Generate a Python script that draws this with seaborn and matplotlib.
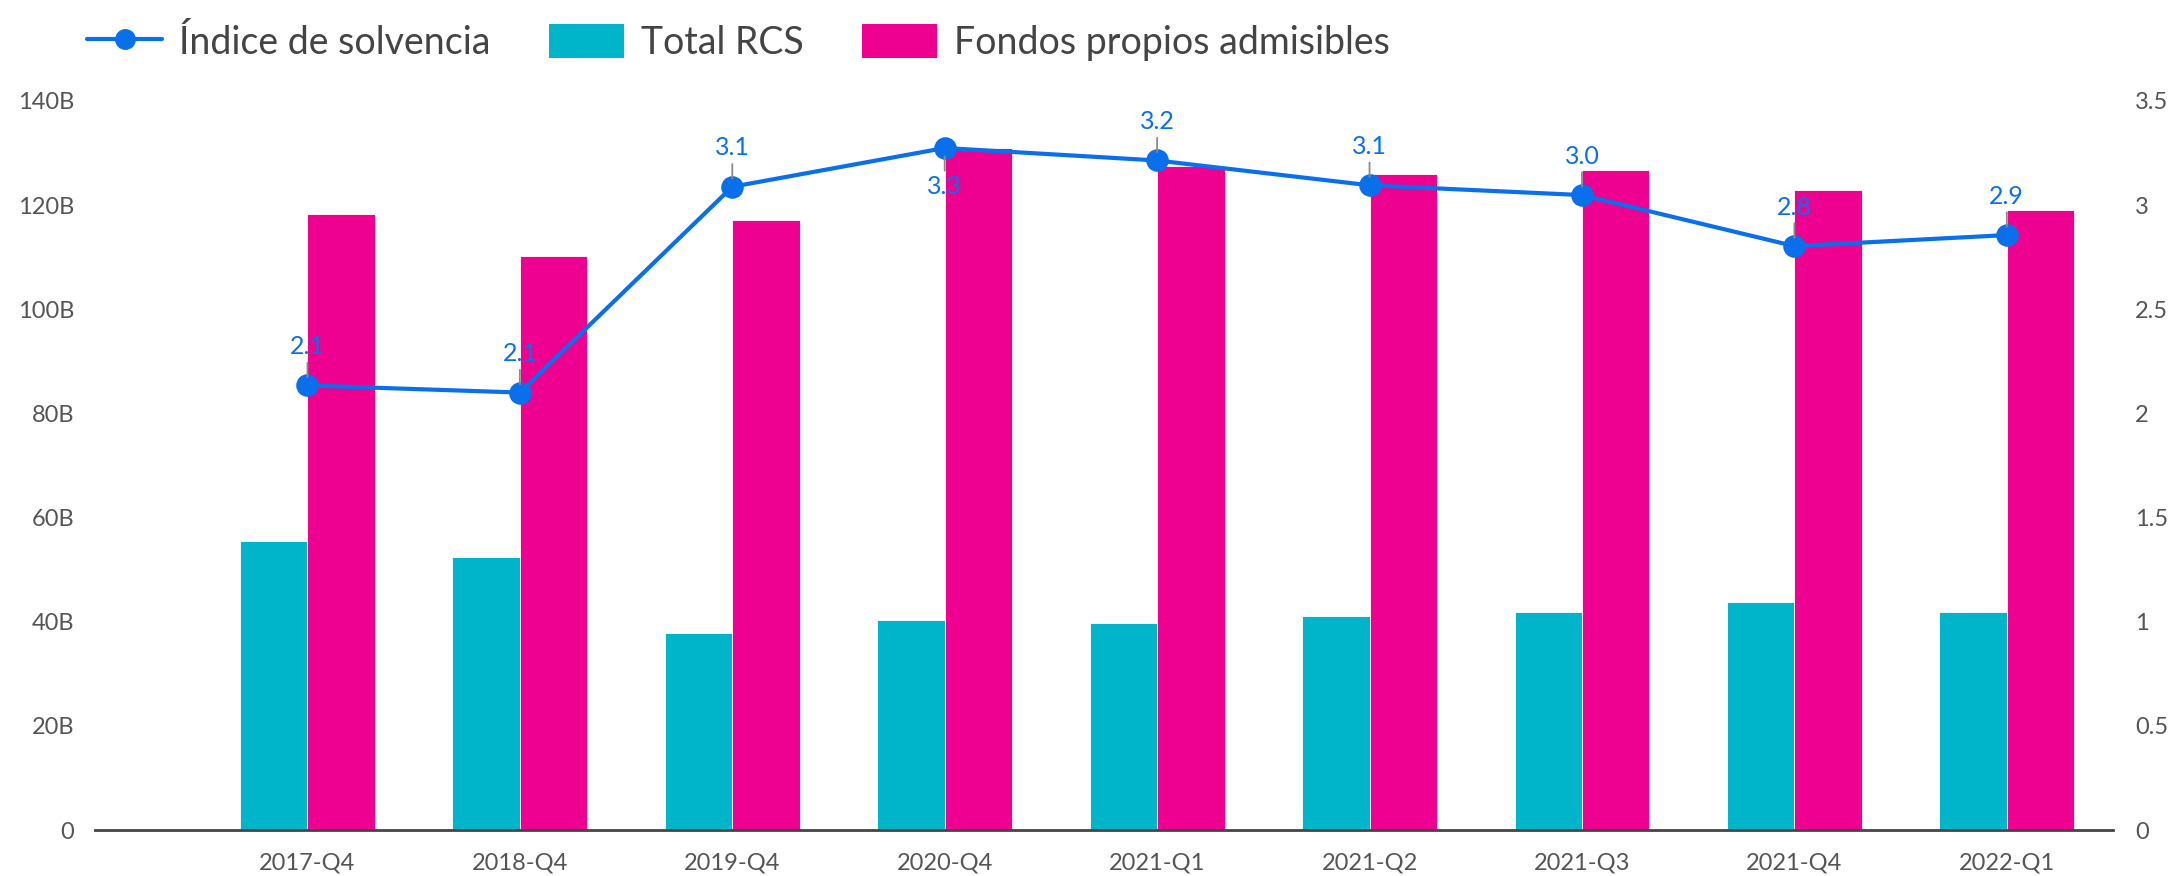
import numpy as np
import pandas as pd
import matplotlib
matplotlib.use("Agg")
import matplotlib.pyplot as plt
from matplotlib.lines import Line2D
from matplotlib.patches import Patch
import seaborn as sns

quarters = ["2017-Q4", "2018-Q4", "2019-Q4", "2020-Q4", "2021-Q1", "2021-Q2", "2021-Q3", "2021-Q4", "2022-Q1"]
total_rcs = [55.4, 52.5, 37.9, 40.3, 39.8, 41.1, 41.9, 43.8, 41.9]
fondos_propios = [118.3, 110.3, 117.2, 131.0, 127.5, 126.0, 126.8, 122.8, 119.1]
solvencia = [2.134, 2.10, 3.088, 3.274, 3.214, 3.095, 3.048, 2.803, 2.856]
left_ticks = [0, 20, 40, 60, 80, 100, 120, 140]
left_ticklabels = ["0", "20B", "40B", "60B", "80B", "100B", "120B", "140B"]
right_ticks = [0, 0.5, 1, 1.5, 2, 2.5, 3, 3.5]
right_ticklabels = ["0", "0.5", "1", "1.5", "2", "2.5", "3", "3.5"]
label_below = [False, False, False, True, False, False, False, False, False]

series_names = ["Índice de solvencia", "Total RCS", "Fondos propios admisibles"]
c_line = "#0a6fea"
c_cyan = "#00b5c9"
c_mag = "#ee0090"
c_tick = "#555555"

sns.set_theme(style="white")
plt.rcParams["font.family"] = ["Lato", "DejaVu Sans"]

df = pd.DataFrame({
    "quarter": quarters * 2,
    "value": total_rcs + fondos_propios,
    "serie": [series_names[1]] * len(quarters) + [series_names[2]] * len(quarters),
})

fig = plt.figure(figsize=(21.75, 8.76), dpi=100)
ax = fig.add_axes([0.0437, 0.0525, 0.9278, 0.8323])

sns.barplot(data=df, x="quarter", y="value", hue="serie", order=quarters,
            hue_order=series_names[1:], palette=[c_cyan, c_mag], width=0.635,
            dodge=True, saturation=1, edgecolor="white", linewidth=0.6,
            legend=False, ax=ax)

ax2 = ax.twinx()
sns.pointplot(x=quarters, y=solvencia, order=quarters, color=c_line, markers="o",
              linestyles="-", markersize=14, linewidth=3, ax=ax2, errorbar=None)

for a in (ax, ax2):
    a.set_xlim(-1.0, 8.5)
    for s in a.spines.values():
        s.set_visible(False)
    a.set_xlabel("")
    a.set_ylabel("")
    a.grid(False)

ax.spines["bottom"].set_visible(True)
ax.spines["bottom"].set_color("#444444")
ax.spines["bottom"].set_linewidth(2)

ax.set_ylim(0, 140)
ax.set_yticks(left_ticks)
ax.set_yticklabels(left_ticklabels)
ax2.set_ylim(0, 3.5)
ax2.set_yticks(right_ticks)
ax2.set_yticklabels(right_ticklabels)
ax.set_xticks(range(len(quarters)))
ax.set_xticklabels(quarters)

ax.tick_params(axis="x", length=0, pad=16, labelsize=17, labelcolor=c_tick)
ax.tick_params(axis="y", length=0, pad=15, labelsize=17, labelcolor=c_tick)
ax2.tick_params(axis="y", length=0, pad=16, labelsize=17, labelcolor=c_tick)
ax2.tick_params(axis="x", length=0, labelbottom=False, labeltop=False)

for i, (v, below) in enumerate(zip(solvencia, label_below)):
    off = -28 if below else 28
    ax2.annotate(f"{v:.1f}", xy=(i, v), xytext=(0, off), textcoords="offset points",
                 ha="center", va="center", fontsize=18, color=c_line,
                 arrowprops=dict(arrowstyle="-", color="#8a8a8a", lw=1.3,
                                 shrinkA=1, shrinkB=6))

handles = [
    Line2D([0], [0], color=c_line, lw=3, marker="o", markersize=14),
    Patch(facecolor=c_cyan, edgecolor="none"),
    Patch(facecolor=c_mag, edgecolor="none"),
]
fig.legend(handles, series_names, loc="upper left", bbox_to_anchor=(0.029, 1.0),
           borderaxespad=0.25, ncol=3, frameon=False, fontsize=27, handlelength=2.0,
           handleheight=1.0, handletextpad=0.45, columnspacing=1.55,
           labelcolor="#444444")

fig.savefig("out.png", dpi=100)
